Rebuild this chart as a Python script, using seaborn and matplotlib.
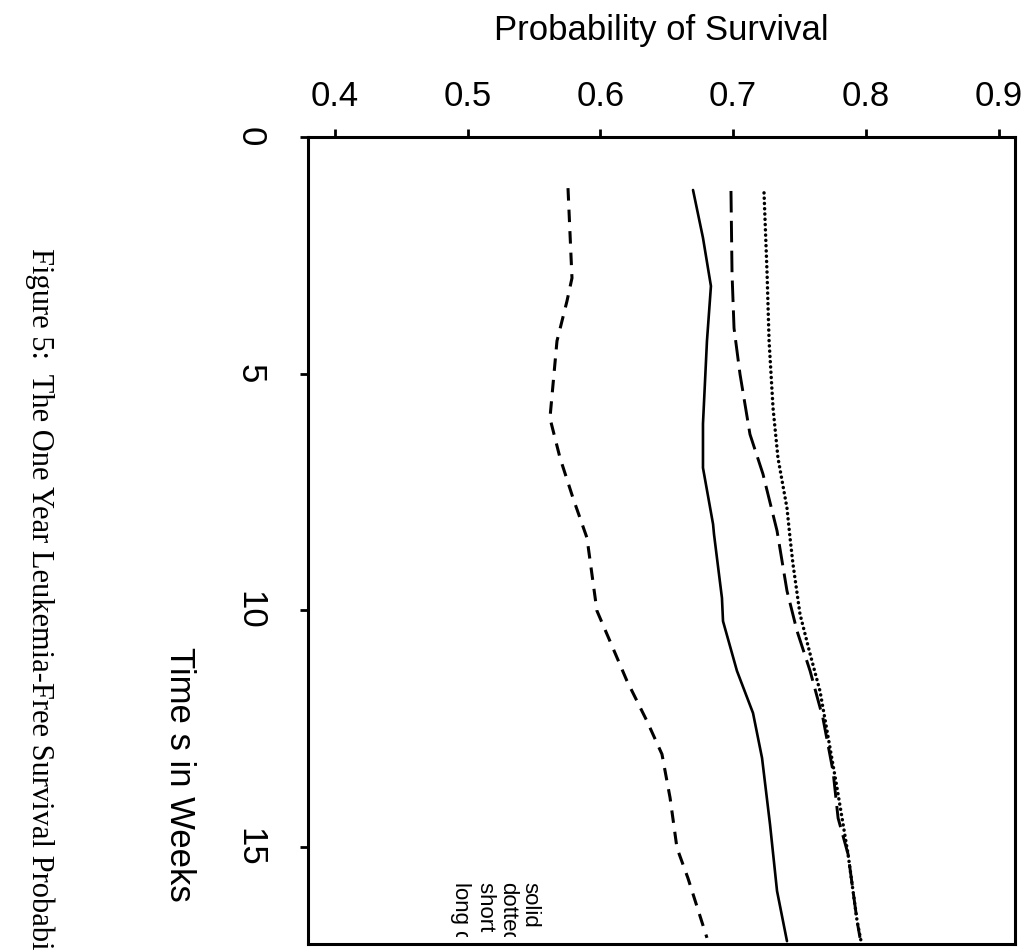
import matplotlib
matplotlib.use("Agg")
import matplotlib.pyplot as plt
import seaborn as sns
from matplotlib.transforms import Bbox

# ---- data ----
weeks_short = [1.08, 2.98, 3.47, 4.31, 5.94, 6.78, 7.63, 8.47, 10.01, 10.65, 11.49, 12.34, 13.04, 13.96, 15.02, 15.66, 16.92]
prob_short = [0.5756, 0.5786, 0.5748, 0.5673, 0.5620, 0.5696, 0.5794, 0.5899, 0.5974, 0.6072, 0.6200, 0.6351, 0.6464, 0.6525, 0.6577, 0.6660, 0.6803]

weeks_solid = [1.12, 2.13, 3.15, 4.31, 6.06, 6.99, 8.18, 8.39, 9.74, 10.23, 11.28, 12.17, 13.12, 14.52, 15.93, 16.99]
prob_solid = [0.6698, 0.6773, 0.6833, 0.6803, 0.6773, 0.6773, 0.6849, 0.6856, 0.6916, 0.6924, 0.7029, 0.7150, 0.7218, 0.7278, 0.7331, 0.7406]

weeks_long = [1.14, 2.89, 4.04, 5.01, 6.28, 7.12, 8.32, 9.59, 10.44, 11.28, 12.28, 13.40, 14.39, 15.15, 16.56, 16.92]
prob_long = [0.6984, 0.6992, 0.7007, 0.7052, 0.7127, 0.7225, 0.7331, 0.7406, 0.7482, 0.7580, 0.7677, 0.7753, 0.7791, 0.7866, 0.7934, 0.7956]

weeks_dotted = [1.18, 2.89, 4.31, 5.73, 6.78, 7.84, 8.47, 9.02, 10.08, 10.92, 11.71, 12.55, 13.75, 15.15, 16.56, 16.99]
prob_dotted = [0.7233, 0.7256, 0.7271, 0.7301, 0.7338, 0.7406, 0.7429, 0.7451, 0.7504, 0.7580, 0.7655, 0.7708, 0.7783, 0.7866, 0.7934, 0.7964]

x_ticks = [0.4, 0.5, 0.6, 0.7, 0.8, 0.9]
x_tick_labels = ["0.4", "0.5", "0.6", "0.7", "0.8", "0.9"]
y_ticks = [0, 5, 10, 15]
y_tick_labels = ["0", "5", "10", "15"]
legend_labels = ["solid", "dotted", "short dash", "long dash"]

x_label = "Probability of Survival"
y_label = "Time s in Weeks"
caption = "Figure 5:  The One Year Leukemia-Free Survival Probabilities"

# ---- style ----
sns.set_style("ticks")
plt.rcParams["font.family"] = ["Liberation Sans", "DejaVu Sans"]
plt.rcParams["lines.scale_dashes"] = False
for k in ["text.color", "axes.labelcolor", "xtick.color", "ytick.color", "axes.edgecolor"]:
    plt.rcParams[k] = "black"

W, H = 1029, 951
fig = plt.figure(figsize=(W / 100, H / 100), dpi=100)
fig.patch.set_facecolor("white")
L, R, T, B = 308, 1015, 137, 944
ax = fig.add_axes([L / W, 1 - B / H, (R - L) / W, (B - T) / H])
ax.set_facecolor("white")

sns.lineplot(x=prob_short, y=weeks_short, sort=False, estimator=None, ax=ax,
             color="black", lw=2.2, linestyle=(0, (9.0, 6.5)))
sns.lineplot(x=prob_solid, y=weeks_solid, sort=False, estimator=None, ax=ax,
             color="black", lw=1.9, linestyle="-")
sns.lineplot(x=prob_long, y=weeks_long, sort=False, estimator=None, ax=ax,
             color="black", lw=2.1, linestyle=(0, (15.5, 6.0)))
sns.lineplot(x=prob_dotted, y=weeks_dotted, sort=False, estimator=None, ax=ax,
             color="black", lw=2.5, linestyle=(0, (0.1, 3.7)), dash_capstyle="round")

ax.set_xlim(0.3797, 0.9124)
ax.set_ylim(17.05, 0)

for s in ax.spines.values():
    s.set_visible(True)
    s.set_linewidth(2.2)
    s.set_color("black")

ax.set_xticks(x_ticks)
ax.set_xticklabels(x_tick_labels)
ax.set_yticks(y_ticks)
ax.set_yticklabels(y_tick_labels)
ax.xaxis.tick_top()
ax.tick_params(axis="x", top=True, bottom=False, labeltop=True, labelbottom=False,
               length=6, width=2, pad=11, labelsize=25, direction="out", colors="black")
ax.tick_params(axis="y", left=True, right=False, length=6, width=2, pad=24,
               labelsize=25, direction="out", labelrotation=270, colors="black")
for lbl in ax.get_yticklabels():
    lbl.set_va("center")

ax.set_xlabel(x_label, fontsize=25, color="black")
ax.xaxis.set_label_position("top")
ax.xaxis.set_label_coords(0.5, (B - 40) / (B - T))
ax.xaxis.label.set_va("baseline")

ax.set_ylabel(y_label, fontsize=25, rotation=270, color="black")
ax.yaxis.set_label_coords((179 - L) / (R - L), (B - 774) / (B - T))
ax.yaxis.label.set_va("center")
ax.yaxis.label.set_ha("center")

fig.text(40 / W, 1 - 248 / H, caption, rotation=270, ha="center", va="top",
         fontsize=22, family=["Liberation Serif", "DejaVu Serif"], color="black")

clip = Bbox.from_extents(440, H - 937, 550, H - 860)
for xpix, lab in zip([530, 508, 485, 461], legend_labels):
    t = fig.text(xpix / W, 1 - 882 / H, lab, rotation=270, ha="center", va="top",
                 fontsize=16, color="black")
    t.set_clip_box(clip)
    t.set_clip_on(True)

fig.savefig("out.png", dpi=100, facecolor="white")
